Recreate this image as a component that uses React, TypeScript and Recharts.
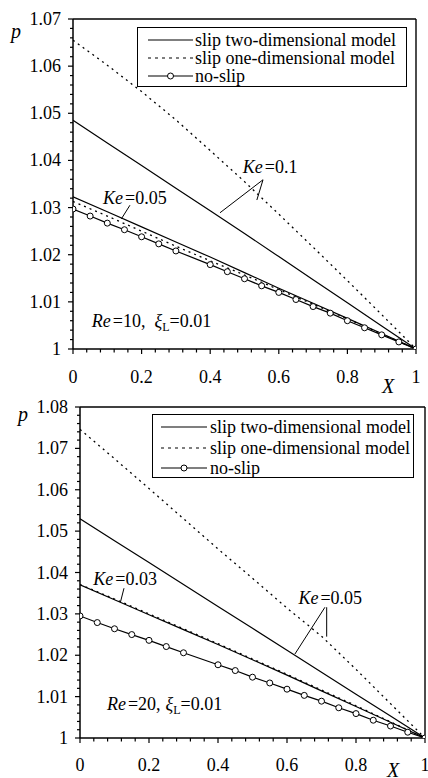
import React from "react";
import { LineChart, Line, XAxis, YAxis, ReferenceLine, ReferenceDot, Legend } from "recharts";

// X stations of the computed curves
const xSlip = [0, 0.1, 0.2, 0.3, 0.4, 0.5, 0.6, 0.7, 0.8, 0.9, 1];
// no-slip markers (there is no marker at 0.35)
const xNoSlip = [0, 0.05, 0.1, 0.15, 0.2, 0.25, 0.3, 0.4, 0.45, 0.5, 0.55, 0.6, 0.65, 0.7, 0.75, 0.8, 0.85, 0.9, 0.95, 1];

// Re = 10, xi_L = 0.01
const re10Slip2dKe01 = [1.0485, 1.0437, 1.0389, 1.0341, 1.0293, 1.0245, 1.0196, 1.0147, 1.0098, 1.0049, 1.0];
const re10Slip1dKe01 = [1.0655, 1.0602, 1.0546, 1.0486, 1.0421, 1.0355, 1.0286, 1.0216, 1.0145, 1.0073, 1.0];
const re10Slip2dKe005 = [1.0323, 1.0291, 1.0259, 1.0227, 1.0195, 1.0162, 1.0129, 1.0097, 1.0065, 1.0033, 1.0];
const re10Slip1dKe005 = [1.0313, 1.0282, 1.025, 1.0218, 1.0187, 1.0157, 1.0126, 1.0095, 1.0064, 1.0032, 1.0];
const re10NoSlip = [1.0297, 1.0282, 1.0267, 1.0253, 1.0238, 1.0223, 1.0208, 1.0179, 1.0164, 1.0149, 1.0134, 1.012, 1.0105, 1.009, 1.0076, 1.006, 1.0045, 1.003, 1.0015, 1.0];

// Re = 20, xi_L = 0.01
const re20Slip2dKe005 = [1.053, 1.0477, 1.0424, 1.0371, 1.0318, 1.0265, 1.0212, 1.0159, 1.0106, 1.0053, 1.0];
const re20Slip1dKe005 = [1.0746, 1.0675, 1.0603, 1.053, 1.0457, 1.0386, 1.0314, 1.0246, 1.0166, 1.0083, 1.0];
const re20Slip2dKe003 = [1.037, 1.0334, 1.0298, 1.0262, 1.0226, 1.0189, 1.0152, 1.0114, 1.0076, 1.0038, 1.0];
const re20Slip1dKe003 = [1.0371, 1.0336, 1.03, 1.0264, 1.0228, 1.0191, 1.0154, 1.0116, 1.0078, 1.0039, 1.0];
const re20NoSlip = [1.0295, 1.0279, 1.0264, 1.025, 1.0236, 1.0221, 1.0206, 1.0177, 1.0163, 1.0147, 1.0133, 1.0118, 1.0103, 1.0089, 1.0073, 1.0059, 1.0043, 1.0029, 1.0014, 1.0];

// tick labels
const xMajor = [0, 0.2, 0.4, 0.6, 0.8, 1];
const yMajorTop = [1, 1.01, 1.02, 1.03, 1.04, 1.05, 1.06, 1.07];
const yMajorBottom = [1, 1.01, 1.02, 1.03, 1.04, 1.05, 1.06, 1.07, 1.08];

const NAME_2D = "slip two-dimensional model";
const NAME_1D = "slip one-dimensional model";
const NAME_NS = "no-slip";

const SERIF = "'Liberation Serif', 'DejaVu Serif', 'Noto Serif', 'Times New Roman', serif";

type Kind = "2d" | "1d" | "ns";
type Pt = { x: number; p: number };

const toPoints = (xs: number[], ys: number[]): Pt[] => xs.map((x, i) => ({ x, p: ys[i] }));

function withMinor(majors: number[], parts: number) {
  const out: number[] = [];
  for (let i = 0; i < majors.length - 1; i++) {
    const step = (majors[i + 1] - majors[i]) / parts;
    for (let k = 0; k < parts; k++) out.push(Math.round((majors[i] + k * step) * 1e6) / 1e6);
  }
  out.push(majors[majors.length - 1]);
  return out;
}

const near = (a: number, b: number) => Math.abs(a - b) < 1e-6;
const fmtX = (v: number) => (near(v, 0) ? "0" : near(v, 1) ? "1" : v.toFixed(1));
const fmtY = (v: number) => (near(v, 1) ? "1" : v.toFixed(2));

const makeXTick = (labelDy: number) => (props: any) => {
  const { x, y, payload } = props;
  const major = xMajor.some((m) => near(m, payload.value));
  return (
    <g>
      <line x1={x} y1={y} x2={x} y2={y + (major ? 5 : 3.5)} stroke="#000" strokeWidth={1.2} />
      {major && (
        <text x={x} y={y + labelDy} textAnchor="middle" style={{ fontFamily: SERIF }} fontSize={18} fill="#000">
          {fmtX(payload.value)}
        </text>
      )}
    </g>
  );
};

const makeYTick = (majors: number[]) => (props: any) => {
  const { x, y, payload } = props;
  const major = majors.some((m) => near(m, payload.value));
  return (
    <g>
      <line x1={x - (major ? 5 : 3)} y1={y} x2={x} y2={y} stroke="#000" strokeWidth={1.2} />
      {major && (
        <text x={x - 12} y={y + 6} textAnchor="end" style={{ fontFamily: SERIF }} fontSize={18} fill="#000">
          {fmtY(payload.value)}
        </text>
      )}
    </g>
  );
};

const lineStyle = (kind: Kind) =>
  kind === "1d"
    ? { stroke: "#000", strokeWidth: 1.3, strokeDasharray: "2 4" }
    : { stroke: "#000", strokeWidth: 1.2 };

type LegendBox = { left: number; top: number; width: number; height: number; padTop: number; padLeft: number; row: number; step: number; sample: number; gap: number };

const legendEntries: { name: string; kind: Kind }[] = [
  { name: NAME_2D, kind: "2d" },
  { name: NAME_1D, kind: "1d" },
  { name: NAME_NS, kind: "ns" },
];

const renderLegend = (box: LegendBox) => () => (
  <div
    style={{
      boxSizing: "border-box",
      width: box.width,
      height: box.height,
      border: "1px solid #000",
      background: "#fff",
      paddingTop: box.padTop,
      paddingLeft: box.padLeft,
      fontFamily: SERIF,
      fontSize: 18,
      color: "#000",
      whiteSpace: "nowrap",
    }}
  >
    {legendEntries.map((e, i) => (
      <div
        key={e.name}
        style={{
          display: "flex",
          alignItems: "center",
          height: box.row,
          lineHeight: box.row + "px",
          marginBottom: i < legendEntries.length - 1 ? box.step - box.row : 0,
        }}
      >
        <svg width={box.sample} height={box.row} style={{ display: "block", flex: "none" }}>
          <line
            x1={0}
            y1={box.row / 2}
            x2={box.sample}
            y2={box.row / 2}
            stroke="#000"
            strokeWidth={1.2}
            strokeDasharray={e.kind === "1d" ? "3 4" : undefined}
          />
          {e.kind === "ns" && <circle cx={box.sample / 2} cy={box.row / 2} r={3} fill="#fff" stroke="#000" strokeWidth={1} />}
        </svg>
        <span style={{ marginLeft: box.gap }}>{e.name}</span>
      </div>
    ))}
  </div>
);

// annotation helpers, positions in data units
const leader = (key: string, a: [number, number], b: [number, number]) => (
  <ReferenceLine key={key} segment={[{ x: a[0], y: a[1] }, { x: b[0], y: b[1] }]} stroke="#000" strokeWidth={1} />
);

const keNote = (key: string, at: [number, number], value: string) => (
  <ReferenceDot
    key={key}
    x={at[0]}
    y={at[1]}
    r={0}
    fill="none"
    stroke="none"
    label={{
      content: (props: any) => (
        <text x={props.viewBox.x} y={props.viewBox.y} style={{ fontFamily: SERIF }} fontSize={18} fill="#000">
          <tspan fontStyle="italic">Ke</tspan>
          <tspan dx={2}>={value}</tspan>
        </text>
      ),
    }}
  />
);

const reNote = (key: string, at: [number, number], re: string, gap: number) => (
  <ReferenceDot
    key={key}
    x={at[0]}
    y={at[1]}
    r={0}
    fill="none"
    stroke="none"
    label={{
      content: (props: any) => (
        <text x={props.viewBox.x} y={props.viewBox.y} style={{ fontFamily: SERIF }} fontSize={18} fill="#000">
          <tspan fontStyle="italic">Re</tspan>
          <tspan dx={2}>={re},</tspan>
          <tspan dx={gap} fontStyle="italic">ξ</tspan>
          <tspan fontSize={12} dy={4}>L</tspan>
          <tspan dy={-4}>=0.01</tspan>
        </text>
      ),
    }}
  />
);

type PanelProps = {
  top: number;
  height: number;
  margin: { top: number; right: number; left: number; bottom: number };
  yWidth: number;
  xHeight: number;
  yMajor: number[];
  lines: { key: string; data: Pt[]; kind: Kind; name: string; legend: boolean }[];
  legend: LegendBox;
  pLabel: [number, number];
  xLabel: [number, number];
  xTickDy: number;
  notes: React.ReactNode[];
};

function Panel(props: PanelProps) {
  const { top, height, margin, yWidth, xHeight, yMajor, lines, legend, pLabel, xLabel, xTickDy, notes } = props;
  const yMin = yMajor[0];
  const yMax = yMajor[yMajor.length - 1];
  return (
    <div style={{ position: "absolute", left: 0, top, fontFamily: SERIF }}>
      <LineChart width={428} height={height} margin={margin}>
        <XAxis
          type="number"
          dataKey="x"
          domain={[0, 1]}
          ticks={withMinor(xMajor, 5)}
          interval={0}
          height={xHeight}
          tickSize={0}
          tickMargin={0}
          tickLine={false}
          axisLine={{ stroke: "#000", strokeWidth: 1.5 }}
          tick={makeXTick(xTickDy)}
          allowDataOverflow
          label={{
            content: (p: any) => (
              <text x={p.viewBox.x + xLabel[0]} y={p.viewBox.y + xLabel[1]} textAnchor="middle" style={{ fontFamily: SERIF }} fontSize={20} fontStyle="italic" fill="#000">
                X
              </text>
            ),
          }}
        />
        <YAxis
          type="number"
          domain={[yMin, yMax]}
          ticks={withMinor(yMajor, 5)}
          interval={0}
          width={yWidth}
          tickSize={0}
          tickMargin={0}
          tickLine={false}
          axisLine={{ stroke: "#000", strokeWidth: 1.5 }}
          tick={makeYTick(yMajor)}
          allowDataOverflow
          label={{
            content: (p: any) => (
              <text x={p.viewBox.x + pLabel[0]} y={p.viewBox.y + pLabel[1]} textAnchor="middle" style={{ fontFamily: SERIF }} fontSize={20} fontStyle="italic" fill="#000">
                p
              </text>
            ),
          }}
        />
        <ReferenceLine y={yMax} stroke="#000" strokeWidth={1.4} />
        <ReferenceLine x={1} stroke="#000" strokeWidth={1.4} />
        {lines.map((l) => (
          <Line
            key={l.key}
            data={l.data}
            dataKey="p"
            name={l.name}
            type="linear"
            {...lineStyle(l.kind)}
            dot={l.kind === "ns" ? { r: 3, fill: "#fff", stroke: "#000", strokeWidth: 1 } : false}
            activeDot={false}
            legendType={l.legend ? "line" : "none"}
            isAnimationActive={false}
          />
        ))}
        {notes}
        <Legend
          layout="vertical"
          align="center"
          verticalAlign="middle"
          content={renderLegend(legend)}
          wrapperStyle={{ left: legend.left, top: legend.top, width: legend.width, height: legend.height }}
        />
      </LineChart>
    </div>
  );
}

export default function App() {
  return (
    <div style={{ position: "absolute", left: 0, top: 0, width: 428, height: 778, background: "#fff", overflow: "hidden" }}>
      <Panel
        top={0}
        height={398}
        margin={{ top: 19, right: 12, left: 0, bottom: 0 }}
        yWidth={73}
        xHeight={49}
        yMajor={yMajorTop}
        xTickDy={34}
        pLabel={[16, 19]}
        xLabel={[315, 44]}
        legend={{ left: 137, top: 27, width: 270, height: 60, padTop: 2.5, padLeft: 10, row: 18, step: 18, sample: 45, gap: 2 }}
        lines={[
          { key: "a", data: toPoints(xSlip, re10Slip2dKe01), kind: "2d", name: NAME_2D, legend: true },
          { key: "b", data: toPoints(xSlip, re10Slip1dKe01), kind: "1d", name: NAME_1D, legend: true },
          { key: "c", data: toPoints(xSlip, re10Slip2dKe005), kind: "2d", name: NAME_2D + " Ke=0.05", legend: false },
          { key: "d", data: toPoints(xSlip, re10Slip1dKe005), kind: "1d", name: NAME_1D + " Ke=0.05", legend: false },
          { key: "e", data: toPoints(xNoSlip, re10NoSlip), kind: "ns", name: NAME_NS, legend: true },
        ]}
        notes={[
          keNote("k1", [0.495, 1.0373], "0.1"),
          leader("l1", [0.554, 1.0359], [0.4286, 1.0289]),
          leader("l2", [0.554, 1.0359], [0.536, 1.0316]),
          keNote("k2", [0.0875, 1.0308], "0.05"),
          leader("l3", [0.166, 1.0305], [0.141, 1.0276]),
          reNote("r1", [0.055, 1.0047], "10", 9),
        ]}
      />
      <Panel
        top={390}
        height={388}
        margin={{ top: 17, right: 3, left: 0, bottom: 0 }}
        yWidth={80}
        xHeight={40}
        yMajor={yMajorBottom}
        xTickDy={33}
        pLabel={[23, 14]}
        xLabel={[313, 39]}
        legend={{ left: 152, top: 24, width: 262, height: 64, padTop: 3, padLeft: 8, row: 18, step: 20.5, sample: 46, gap: 3 }}
        lines={[
          { key: "a", data: toPoints(xSlip, re20Slip2dKe005), kind: "2d", name: NAME_2D, legend: true },
          { key: "b", data: toPoints(xSlip, re20Slip1dKe005), kind: "1d", name: NAME_1D, legend: true },
          { key: "c", data: toPoints(xSlip, re20Slip2dKe003), kind: "2d", name: NAME_2D + " Ke=0.03", legend: false },
          { key: "d", data: toPoints(xSlip, re20Slip1dKe003), kind: "1d", name: NAME_1D + " Ke=0.03", legend: false },
          { key: "e", data: toPoints(xNoSlip, re20NoSlip), kind: "ns", name: NAME_NS, legend: true },
        ]}
        notes={[
          keNote("k1", [0.0386, 1.037], "0.03"),
          leader("l1", [0.1275, 1.0362], [0.1174, 1.0329]),
          keNote("k2", [0.633, 1.0324], "0.05"),
          leader("l2", [0.71, 1.0316], [0.623, 1.0203]),
          leader("l3", [0.715, 1.0316], [0.715, 1.0245]),
          reNote("r1", [0.078, 1.0068], "20", 5),
        ]}
      />
    </div>
  );
}
